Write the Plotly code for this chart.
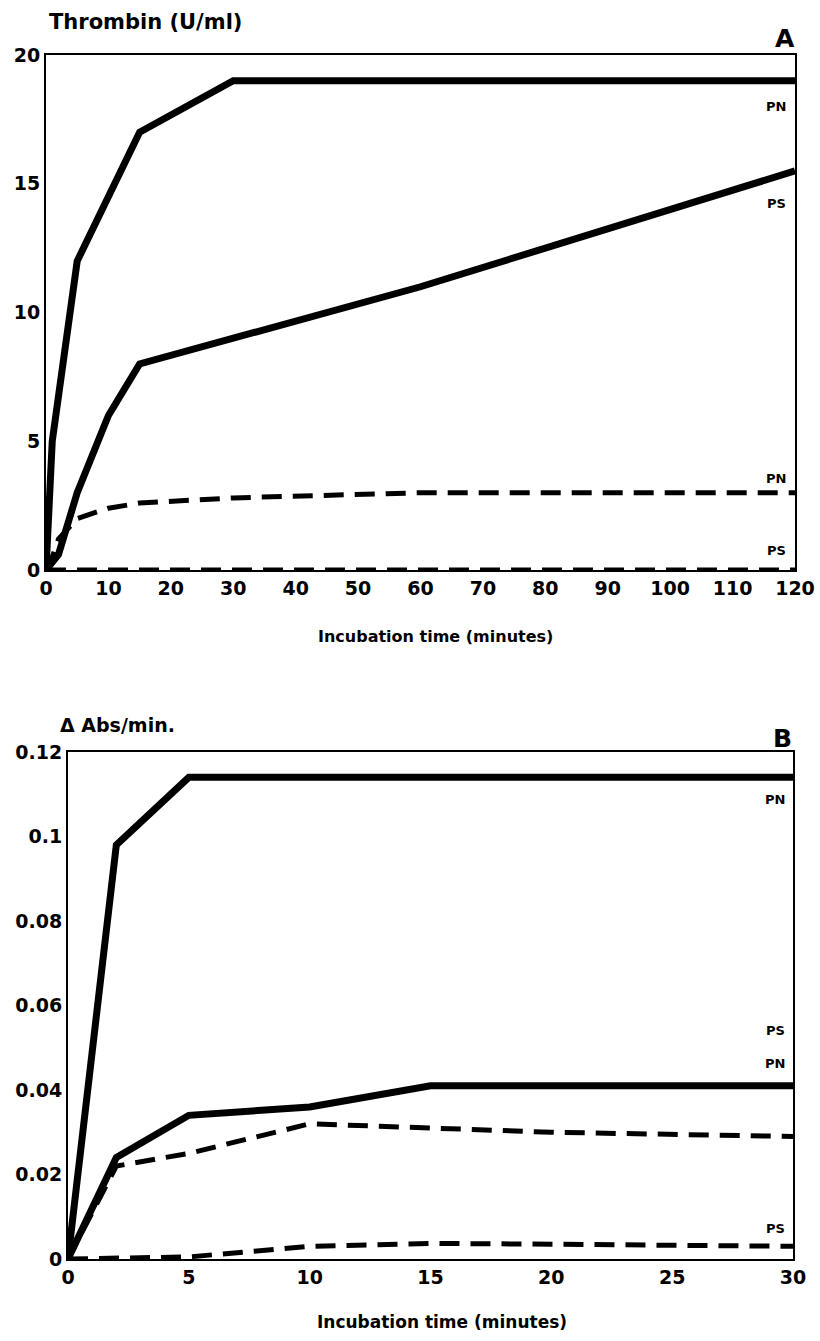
import plotly.graph_objects as go

# Panel A: thrombin (U/ml) vs incubation time (min)
a_pn_solid_t = [0, 1, 5, 15, 30, 120]
a_pn_solid_v = [0, 5, 12, 17, 19, 19]
a_ps_solid_t = [0, 2, 5, 10, 15, 60, 120]
a_ps_solid_v = [0, 0.6, 3, 6, 8, 11, 15.5]
a_pn_dash_t = [0, 1, 2, 5, 10, 15, 30, 60, 120]
a_pn_dash_v = [0, 0.5, 1.2, 2.0, 2.4, 2.6, 2.8, 3.0, 3.0]
a_ps_dash_t = [0, 5, 15, 30, 60, 120]
a_ps_dash_v = [0, 0, 0, 0, 0, 0]

# Panel B: delta Abs/min vs incubation time (min)
b_pn_solid_t = [0, 2, 5, 30]
b_pn_solid_v = [0, 0.098, 0.114, 0.114]
b_ps_solid_t = [0, 2, 5, 10, 15, 30]
b_ps_solid_v = [0, 0.024, 0.034, 0.036, 0.041, 0.041]
b_pn_dash_t = [0, 2, 5, 10, 15, 20, 30]
b_pn_dash_v = [0, 0.022, 0.025, 0.032, 0.031, 0.030, 0.029]
b_ps_dash_t = [0, 5, 10, 15, 20, 30]
b_ps_dash_v = [0, 0.0005, 0.003, 0.0037, 0.0035, 0.003]

a_xticks = list(range(0, 121, 10))
a_yticks = [0, 5, 10, 15, 20]
b_xticks = [0, 5, 10, 15, 20, 25, 30]
b_yticks = [0, 0.02, 0.04, 0.06, 0.08, 0.1, 0.12]
b_ytick_labels = ["0", "0.02", "0.04", "0.06", "0.08", "0.1", "0.12"]

FONT = "DejaVu Sans"
W, H = 820, 1341

def px(x):
    return x / W

def py(y):
    return 1 - y / H

fig = go.Figure()

def add(t, v, dash, xa, ya):
    fig.add_trace(go.Scatter(
        x=t, y=v, mode="lines", xaxis=xa, yaxis=ya,
        line=dict(color="black", width=7 if dash == "solid" else 5,
                  dash=dash), showlegend=False, hoverinfo="skip"))

DASH = "20px,11px"
add(a_pn_solid_t, a_pn_solid_v, "solid", "x", "y")
add(a_ps_solid_t, a_ps_solid_v, "solid", "x", "y")
add(a_pn_dash_t, a_pn_dash_v, DASH, "x", "y")
add(a_ps_dash_t, a_ps_dash_v, DASH, "x", "y")
add(b_pn_solid_t, b_pn_solid_v, "solid", "x2", "y2")
add(b_ps_solid_t, b_ps_solid_v, "solid", "x2", "y2")
add(b_pn_dash_t, b_pn_dash_v, DASH, "x2", "y2")
add(b_ps_dash_t, b_ps_dash_v, DASH, "x2", "y2")

tickfont = dict(family=FONT, size=19, color="black", weight="bold")
axcommon = dict(showgrid=False, zeroline=False, showline=True, linecolor="black",
                linewidth=2, mirror=True, ticks="", tickfont=tickfont,
                automargin=False, ticklabeloverflow="allow")

fig.update_layout(
    width=W, height=H, plot_bgcolor="white", paper_bgcolor="white",
    margin=dict(l=0, r=0, t=0, b=0, autoexpand=False),
    xaxis=dict(domain=[px(46), px(795)], range=[0, 120], tickvals=a_xticks,
               anchor="y", **axcommon),
    yaxis=dict(domain=[py(570), py(55)], range=[0, 20], tickvals=a_yticks,
               anchor="x", **axcommon),
    xaxis2=dict(domain=[px(68), px(793)], range=[0, 30], tickvals=b_xticks,
                anchor="y2", **axcommon),
    yaxis2=dict(domain=[py(1259), py(752)], range=[0, 0.12], tickvals=b_yticks,
                ticktext=b_ytick_labels, anchor="x2", **axcommon),
)

ann = []

def text(t, x, y, size, xanchor="left"):
    ann.append(dict(text=t, x=px(x), y=py(y), xref="paper", yref="paper",
                    showarrow=False, xanchor=xanchor, yanchor="middle",
                    font=dict(family=FONT, size=size, color="black", weight="bold")))

# curve labels
text("PN", 788, 106, 13, "right")
text("PS", 788, 204, 13, "right")
text("PN", 788, 478, 13, "right")
text("PS", 788, 550, 13, "right")
text("PN", 787, 799, 13, "right")
text("PS", 787, 1030, 13, "right")
text("PN", 787, 1063, 13, "right")
text("PS", 787, 1228, 13, "right")

text("Thrombin (U/ml)", 47, 22, 21)
text("A", 797, 38, 25, "right")
text("Δ Abs/min.", 58, 725, 19)
text("B", 794, 738, 25, "right")
text("Incubation time (minutes)", 435, 637, 16, "center")
text("Incubation time (minutes)", 442, 1322, 17, "center")

fig.update_layout(annotations=ann)
fig.write_html("out.html", config={"displayModeBar": False},
               post_script="document.body.style.margin='0px';")
